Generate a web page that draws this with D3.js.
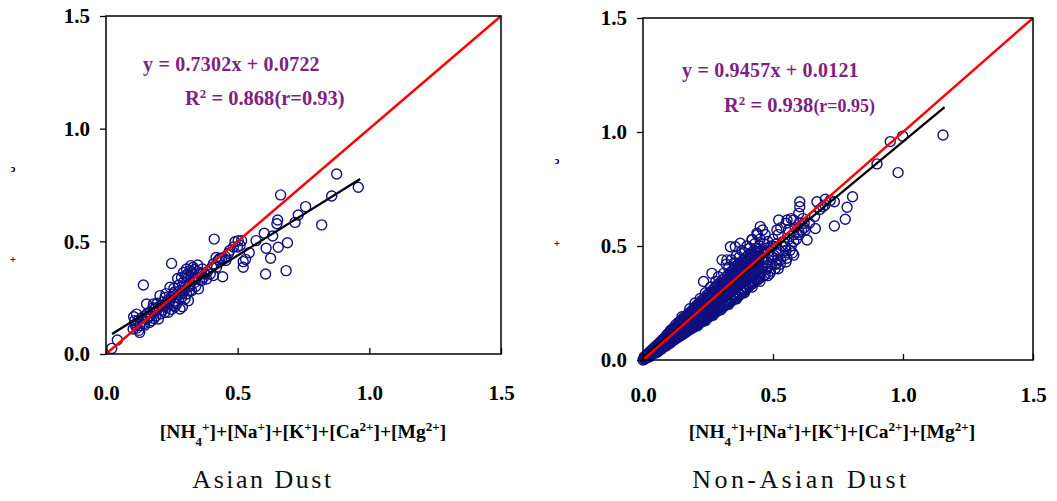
<!DOCTYPE html>
<html>
<head>
<meta charset="utf-8">
<script src="https://cdn.jsdelivr.net/npm/d3@7"></script>
<style>
  body { margin: 0; background: #fff; }
  svg { display: block; }
</style>
</head>
<body>
<div id="chart"></div>
<script>
// 축 눈금
const tickValues = [0, 0.5, 1.0, 1.5];
const titles = ["Asian Dust", "Non-Asian Dust"];
const eqAsian = ["y = 0.7302x + 0.0722", "0.868", "(r=0.93)"];
const eqNon = ["y = 0.9457x + 0.0121", "0.938", "(r=0.95)"];
// 회귀선 [기울기, 절편, 시작x, 끝x]
const fitAsian = [0.7302, 0.0722, 0.023, 0.965];
const fitNon = [0.9457, 0.0121, 0.0, 1.16];

// Asian Dust 측정점 [x, y]
const asianPts = [
  [0.022,0.025],[0.043,0.062],[0.142,0.306],[0.249,0.402],[0.411,0.510],[0.876,0.799],
  [0.958,0.740],[0.857,0.701],[0.663,0.706],[0.758,0.654],[0.730,0.617],[0.718,0.584],
  [0.819,0.573],[0.652,0.595],[0.649,0.578],[0.633,0.524],[0.601,0.536],[0.608,0.469],
  [0.654,0.474],[0.689,0.494],[0.625,0.425],[0.606,0.355],[0.684,0.370],[0.570,0.503],
  [0.544,0.450],[0.521,0.410],[0.521,0.385],[0.515,0.503],[0.502,0.503],[0.490,0.498],
  [0.499,0.475],[0.443,0.343],[0.465,0.447],[0.453,0.432],[0.433,0.425],[0.418,0.428],
  [0.402,0.385],[0.396,0.355],[0.376,0.355],[0.366,0.377],[0.331,0.385],[0.319,0.370],
  [0.306,0.377],[0.294,0.362],[0.287,0.340],[0.313,0.340],[0.344,0.340],[0.338,0.318],
  [0.319,0.311],[0.300,0.296],[0.281,0.281],[0.325,0.281],[0.306,0.266],[0.287,0.251],
  [0.313,0.237],[0.281,0.200],[0.268,0.222],[0.243,0.237],[0.243,0.296],[0.224,0.251],
  [0.205,0.259],[0.230,0.207],[0.237,0.185],[0.211,0.214],[0.192,0.192],[0.180,0.222],
  [0.154,0.222],[0.167,0.185],[0.199,0.155],[0.173,0.148],[0.154,0.155],[0.142,0.133],
  [0.116,0.177],[0.109,0.148],[0.128,0.126],[0.103,0.111],[0.128,0.096],[0.122,0.148],
  [0.148,0.170],[0.224,0.185],[0.256,0.266],[0.268,0.251],[0.300,0.244],[0.351,0.289],
  [0.363,0.326],[0.382,0.333],[0.408,0.348],[0.427,0.418],[0.440,0.425],[0.408,0.400],
  [0.484,0.475],[0.509,0.482],[0.325,0.360],[0.335,0.375],[0.310,0.355],[0.295,0.320],
  [0.275,0.305],[0.260,0.275],[0.250,0.255],[0.235,0.240],[0.215,0.230],[0.200,0.210],
  [0.185,0.200],[0.170,0.170],[0.160,0.160],[0.135,0.160],[0.118,0.115],[0.115,0.135],
  [0.265,0.230],[0.290,0.270],[0.315,0.300],[0.340,0.300],[0.355,0.330],[0.370,0.340],
  [0.345,0.365],[0.290,0.210],[0.255,0.215],[0.215,0.195],[0.190,0.170],[0.165,0.140],
  [0.385,0.365],[0.420,0.385],[0.455,0.415],[0.470,0.460],[0.530,0.420],[0.125,0.105],
  [0.105,0.165],[0.112,0.125],[0.138,0.145],[0.158,0.182],[0.178,0.205],[0.195,0.225],
  [0.228,0.268],[0.258,0.292],[0.272,0.335],[0.302,0.348],[0.322,0.392],[0.348,0.395],
  [0.278,0.262],[0.298,0.282],[0.318,0.282],[0.333,0.338],[0.358,0.362],[0.238,0.22],
  [0.248,0.198],[0.262,0.21],[0.222,0.215],[0.208,0.178],[0.182,0.158],[0.147,0.128]
];

// Non-Asian Dust 측정점 [x, y]
const nonPts = [
  [0,0],[0.005,0.003],[0.01,0.008],[0.012,0.015],
  [0.02,0.012],[0.02,0.022],[0.025,0.018],[0.028,0.03],
  [0.03,0.02],[0.033,0.035],[0.035,0.026],[0.038,0.042],
  [0.04,0.03],[0.042,0.045],[0.045,0.036],[0.048,0.052],
  [0.05,0.038],[0.052,0.055],[0.055,0.045],[0.057,0.065],[0.058,0.04],
  [0.06,0.048],[0.062,0.07],[0.065,0.056],[0.067,0.078],[0.068,0.05],
  [0.07,0.055],[0.072,0.08],[0.074,0.066],[0.076,0.09],[0.078,0.06],
  [0.08,0.064],[0.082,0.095],[0.084,0.076],[0.086,0.1],[0.088,0.07],
  [0.09,0.072],[0.092,0.11],[0.094,0.085],[0.096,0.115],[0.098,0.08],
  [0.10,0.08],[0.102,0.12],[0.104,0.095],[0.106,0.13],[0.108,0.088],[0.105,0.108],
  [0.11,0.088],[0.112,0.13],[0.114,0.104],[0.116,0.14],[0.118,0.095],[0.115,0.118],
  [0.12,0.095],[0.122,0.14],[0.124,0.11],[0.126,0.155],[0.128,0.102],[0.125,0.125],
  [0.13,0.103],[0.132,0.15],[0.134,0.12],[0.136,0.165],[0.138,0.11],[0.135,0.135],
  [0.14,0.11],[0.142,0.16],[0.144,0.128],[0.146,0.175],[0.148,0.118],[0.145,0.145],
  [0.15,0.118],[0.152,0.17],[0.154,0.138],[0.156,0.185],[0.158,0.125],[0.155,0.155],
  [0.16,0.125],[0.162,0.18],[0.164,0.145],[0.166,0.195],[0.168,0.132],[0.165,0.165],
  [0.17,0.132],[0.172,0.19],[0.174,0.152],[0.176,0.205],[0.178,0.14],[0.175,0.172],
  [0.18,0.14],[0.182,0.2],[0.184,0.16],[0.186,0.215],[0.188,0.148],[0.185,0.18],
  [0.19,0.148],[0.192,0.21],[0.194,0.168],[0.196,0.228],[0.198,0.155],[0.195,0.19],
  [0.20,0.155],[0.202,0.222],[0.204,0.175],[0.206,0.24],[0.208,0.162],[0.205,0.2],
  [0.21,0.163],[0.212,0.232],[0.214,0.185],[0.216,0.25],[0.218,0.17],[0.215,0.21],
  [0.22,0.17],[0.222,0.242],[0.224,0.195],[0.226,0.262],[0.228,0.178],[0.225,0.22],
  [0.23,0.178],[0.232,0.252],[0.234,0.205],[0.236,0.272],[0.238,0.186],[0.235,0.23],
  [0.24,0.186],[0.242,0.262],[0.244,0.214],[0.246,0.285],[0.248,0.194],[0.245,0.24],
  [0.25,0.194],[0.252,0.272],[0.254,0.222],[0.256,0.295],[0.258,0.2],[0.255,0.25],
  [0.26,0.2],[0.262,0.285],[0.264,0.232],[0.266,0.305],[0.268,0.21],[0.265,0.26],
  [0.27,0.21],[0.272,0.295],[0.274,0.24],[0.276,0.318],[0.278,0.218],[0.275,0.27],
  [0.28,0.218],[0.282,0.305],[0.284,0.25],[0.286,0.33],[0.288,0.226],[0.285,0.28],
  [0.29,0.226],[0.292,0.315],[0.294,0.26],[0.296,0.34],[0.298,0.235],[0.295,0.29],
  [0.30,0.235],[0.302,0.325],[0.304,0.268],[0.306,0.35],[0.308,0.243],[0.305,0.3],
  [0.31,0.243],[0.312,0.335],[0.314,0.278],[0.316,0.362],[0.318,0.25],[0.315,0.31],
  [0.32,0.25],[0.322,0.345],[0.324,0.288],[0.326,0.372],[0.328,0.258],[0.325,0.32],
  [0.33,0.258],[0.332,0.358],[0.334,0.296],[0.336,0.385],[0.338,0.266],[0.335,0.33],
  [0.34,0.266],[0.342,0.368],[0.344,0.305],[0.346,0.395],[0.348,0.275],[0.345,0.34],
  [0.35,0.275],[0.352,0.378],[0.354,0.315],[0.356,0.41],[0.358,0.283],[0.355,0.35],
  [0.36,0.283],[0.362,0.388],[0.364,0.325],[0.366,0.42],[0.368,0.29],[0.365,0.36],
  [0.37,0.29],[0.372,0.4],[0.374,0.335],[0.376,0.43],[0.378,0.3],[0.375,0.37],
  [0.38,0.3],[0.382,0.41],[0.384,0.345],[0.386,0.44],[0.388,0.308],[0.385,0.38],
  [0.39,0.308],[0.392,0.42],[0.394,0.352],[0.396,0.45],[0.398,0.315],[0.395,0.39],
  [0.40,0.315],[0.402,0.43],[0.404,0.36],[0.406,0.462],[0.408,0.325],[0.405,0.4],
  [0.41,0.325],[0.413,0.44],[0.416,0.37],[0.418,0.472],[0.415,0.41],
  [0.42,0.333],[0.423,0.45],[0.426,0.38],[0.428,0.48],[0.425,0.42],
  [0.43,0.342],[0.433,0.46],[0.436,0.39],[0.438,0.49],[0.435,0.43],
  [0.44,0.35],[0.443,0.47],[0.446,0.398],[0.448,0.5],[0.445,0.44],
  [0.45,0.36],[0.455,0.48],[0.46,0.405],[0.465,0.51],[0.458,0.45],
  [0.47,0.375],[0.475,0.43],[0.48,0.47],[0.49,0.39],[0.495,0.45],[0.5,0.5],
  [0.51,0.42],[0.52,0.47],[0.53,0.44],[0.535,0.5],[0.55,0.48],[0.56,0.53],
  [0.57,0.5],[0.58,0.55],[0.6,0.56],[0.62,0.58],[0.64,0.6],[0.66,0.63],
  [0.68,0.66],[0.7,0.68],[0.72,0.7],
  [0.48,0.52],[0.5,0.53],[0.52,0.55],[0.53,0.58],[0.55,0.6],[0.57,0.62],
  [0.56,0.57],[0.54,0.52],[0.58,0.52],[0.6,0.55],[0.62,0.6],[0.5,0.45],
  [0.304,0.439],[0.265,0.380],[0.336,0.497],[0.355,0.497],[0.374,0.512],[0.323,0.439],
  [0.233,0.344],[0.419,0.526],[0.438,0.556],[0.451,0.585],[0.477,0.409],[0.515,0.424],
  [0.554,0.446],[0.547,0.497],[0.515,0.570],[0.522,0.614],[0.554,0.614],[0.579,0.614],
  [0.599,0.643],[0.603,0.672],[0.603,0.694],[0.624,0.570],[0.631,0.526],[0.663,0.577],
  [0.669,0.694],[0.692,0.672],[0.701,0.705],[0.736,0.694],[0.736,0.588],[0.778,0.617],
  [0.785,0.670],[0.806,0.716],[0.900,0.860],[0.981,0.822],[0.951,0.958],[0.999,0.982],
  [1.154,0.987],
  [0.015,0.01],[0.018,0.02],[0.023,0.026],[0.027,0.015],[0.032,0.028],[0.036,0.04],
  [0.041,0.038],[0.044,0.05],[0.047,0.03],[0.051,0.047],[0.053,0.06],[0.056,0.035],
  [0.059,0.058],[0.063,0.062],[0.066,0.044],[0.069,0.072],[0.071,0.064],[0.073,0.05],
  [0.077,0.074],[0.079,0.085],[0.081,0.058],[0.083,0.082],[0.087,0.09],[0.089,0.062],
  [0.091,0.094],[0.093,0.1],[0.097,0.07],[0.099,0.1],
  [0.101,0.105],[0.103,0.072],[0.107,0.115],[0.109,0.1],[0.111,0.122],[0.113,0.082],
  [0.117,0.11],[0.119,0.128],[0.121,0.118],[0.123,0.09],[0.127,0.135],[0.129,0.12],
  [0.131,0.128],[0.133,0.098],[0.137,0.145],[0.139,0.13],[0.141,0.14],[0.143,0.105],
  [0.147,0.155],[0.149,0.138],[0.151,0.15],[0.153,0.112],[0.157,0.165],[0.159,0.148],
  [0.161,0.16],[0.163,0.12],[0.167,0.178],[0.169,0.155],[0.171,0.168],[0.173,0.128],
  [0.177,0.188],[0.179,0.162],[0.181,0.175],[0.183,0.135],[0.187,0.198],[0.189,0.172],
  [0.191,0.182],[0.193,0.142],[0.197,0.21],[0.199,0.18],
  [0.201,0.19],[0.203,0.15],[0.207,0.22],[0.209,0.19],[0.211,0.2],[0.213,0.158],
  [0.217,0.232],[0.219,0.198],[0.221,0.21],[0.223,0.165],[0.227,0.245],[0.229,0.206],
  [0.231,0.22],[0.233,0.172],[0.237,0.255],[0.239,0.215],[0.241,0.228],[0.243,0.18],
  [0.247,0.265],[0.249,0.225],[0.251,0.238],[0.253,0.188],[0.257,0.278],[0.259,0.232],
  [0.261,0.248],[0.263,0.196],[0.267,0.29],[0.269,0.24],[0.271,0.258],[0.273,0.204],
  [0.277,0.3],[0.279,0.25],[0.281,0.268],[0.283,0.212],[0.287,0.31],[0.289,0.258],
  [0.291,0.278],[0.293,0.22],[0.297,0.322],[0.299,0.268],
  [0.301,0.288],[0.303,0.228],[0.307,0.335],[0.309,0.276],[0.311,0.298],[0.313,0.236],
  [0.317,0.345],[0.319,0.285],[0.321,0.308],[0.323,0.244],[0.327,0.358],[0.329,0.294],
  [0.331,0.318],[0.333,0.252],[0.337,0.37],[0.339,0.302],[0.341,0.328],[0.343,0.26],
  [0.347,0.38],[0.349,0.31],[0.351,0.338],[0.353,0.268],[0.357,0.392],[0.359,0.318],
  [0.361,0.348],[0.363,0.278],[0.367,0.402],[0.369,0.328],[0.371,0.358],[0.373,0.286],
  [0.377,0.415],[0.379,0.336],[0.381,0.368],[0.383,0.295],[0.387,0.425],[0.389,0.345],
  [0.391,0.378],[0.393,0.305],[0.397,0.435],[0.399,0.352],
  [0.403,0.388],[0.407,0.33],[0.411,0.445],[0.414,0.36],[0.417,0.395],[0.421,0.34],
  [0.424,0.458],[0.427,0.37],[0.431,0.405],[0.434,0.35],[0.437,0.468],[0.441,0.38],
  [0.444,0.415],[0.447,0.36],[0.452,0.475],[0.456,0.39],[0.462,0.43],[0.466,0.37],
  [0.472,0.49],[0.477,0.4],[0.483,0.44],[0.488,0.38],[0.492,0.5],[0.497,0.42],
  [0.503,0.46],[0.508,0.4],[0.513,0.51],[0.518,0.44],[0.524,0.48],[0.528,0.42],
  [0.545,0.46],[0.565,0.48],[0.575,0.47],[0.59,0.53],[0.61,0.57],[0.585,0.58],
  [0.6,0.6],[0.615,0.62],
  [0.005,0.005],[0.005,0.008],[0.005,0.011],[0.005,0.014],
  [0.015,0.013],[0.015,0.017],[0.015,0.021],[0.015,0.025],
  [0.025,0.021],[0.025,0.026],[0.025,0.031],[0.025,0.035],
  [0.035,0.030],[0.035,0.035],[0.035,0.040],[0.035,0.046],
  [0.045,0.038],[0.045,0.044],[0.045,0.050],[0.045,0.057],
  [0.055,0.046],[0.055,0.053],[0.055,0.060],[0.055,0.067],
  [0.065,0.054],[0.065,0.062],[0.065,0.070],[0.065,0.078],
  [0.075,0.062],[0.075,0.071],[0.075,0.080],[0.075,0.089],
  [0.085,0.070],[0.085,0.080],[0.085,0.090],[0.085,0.099],
  [0.095,0.078],[0.095,0.089],[0.095,0.100],[0.095,0.110],
  [0.105,0.086],[0.105,0.098],[0.105,0.109],[0.105,0.121],
  [0.115,0.095],[0.115,0.107],[0.115,0.119],[0.115,0.131],
  [0.125,0.103],[0.125,0.116],[0.125,0.129],[0.125,0.142],
  [0.135,0.111],[0.135,0.125],[0.135,0.139],[0.135,0.153],
  [0.145,0.119],[0.145,0.134],[0.145,0.149],[0.145,0.164],
  [0.155,0.127],[0.155,0.143],[0.155,0.158],[0.155,0.174],
  [0.165,0.135],[0.165,0.152],[0.165,0.168],[0.165,0.185],
  [0.175,0.143],[0.175,0.161],[0.175,0.178],[0.175,0.196],
  [0.185,0.152],[0.185,0.170],[0.185,0.188],[0.185,0.206],
  [0.195,0.160],[0.195,0.179],[0.195,0.198],[0.195,0.217],
  [0.205,0.168],[0.205,0.188],[0.205,0.208],[0.205,0.228],
  [0.215,0.176],[0.215,0.197],[0.215,0.218],[0.215,0.238],
  [0.225,0.184],[0.225,0.206],[0.225,0.227],[0.225,0.249],
  [0.235,0.192],[0.235,0.215],[0.235,0.237],[0.235,0.260],
  [0.245,0.200],[0.245,0.224],[0.245,0.247],[0.245,0.270],
  [0.255,0.209],[0.255,0.233],[0.255,0.257],[0.255,0.281],
  [0.265,0.217],[0.265,0.242],[0.265,0.267],[0.265,0.292],
  [0.275,0.225],[0.275,0.251],[0.275,0.277],[0.275,0.302],
  [0.285,0.233],[0.285,0.260],[0.285,0.286],[0.285,0.313],
  [0.295,0.241],[0.295,0.269],[0.295,0.296],[0.295,0.324],
  [0.305,0.249],[0.305,0.278],[0.305,0.306],[0.305,0.335],
  [0.315,0.257],[0.315,0.287],[0.315,0.316],[0.315,0.345],
  [0.325,0.266],[0.325,0.296],[0.325,0.326],[0.325,0.356],
  [0.335,0.274],[0.335,0.305],[0.335,0.336],[0.335,0.367],
  [0.345,0.282],[0.345,0.314],[0.345,0.346],[0.345,0.377],
  [0.355,0.290],[0.355,0.323],[0.355,0.355],[0.355,0.388],
  [0.365,0.298],[0.365,0.332],[0.365,0.365],[0.365,0.399],
  [0.375,0.306],[0.375,0.341],[0.375,0.375],[0.375,0.409],
  [0.385,0.314],[0.385,0.350],[0.385,0.385],[0.385,0.420],
  [0.395,0.323],[0.395,0.359],[0.395,0.395],[0.395,0.431],
  [0.405,0.331],[0.405,0.368],[0.405,0.405],[0.405,0.442],
  [0.415,0.339],[0.415,0.377],[0.415,0.415],[0.415,0.452],
  [0.425,0.347],[0.425,0.386],[0.425,0.425],[0.425,0.463],
  [0.435,0.355],[0.435,0.395],[0.435,0.435],[0.435,0.474],
  [0.445,0.363],[0.445,0.404],[0.445,0.445],[0.445,0.485],
  [0.15,0.19],[0.18,0.225],[0.20,0.25],[0.22,0.27],[0.24,0.295],[0.26,0.32],
  [0.28,0.345],[0.29,0.365],[0.31,0.38],[0.33,0.405],[0.35,0.425],[0.37,0.45],
  [0.39,0.47],[0.41,0.49],[0.43,0.51],[0.45,0.53],[0.47,0.55],[0.32,0.42],
  [0.34,0.44],[0.36,0.46],[0.38,0.48],[0.40,0.50],[0.42,0.53],[0.44,0.55],
  [0.46,0.57],[0.21,0.15],[0.24,0.172],[0.27,0.196],[0.30,0.22],[0.33,0.244],
  [0.36,0.268],[0.39,0.295],[0.42,0.32],[0.45,0.345],[0.48,0.37],[0.52,0.40],
  [0.55,0.43],[0.58,0.46]
];

const width = 1057, height = 501;
const svg = d3.select("#chart").append("svg")
  .attr("width", width).attr("height", height);

const serif = '"Liberation Serif", "Times New Roman", serif';
const purple = "#7f1f80";
const navy = "#10107f";

const panels = [
  { left: 106, top: 16, w: 395, h: 338, pts: asianPts, fit: fitAsian, eq: eqAsian,
    eqPos: [[143, 71], [185, 105]], title: titles[0], titleX: 263, xLabX: 303, xPad: 31,
    titleSpace: 2.5, glyphs: [[13, 172, "ↄ"], [13, 263, "+"]], rSmall: false },
  { left: 643, top: 18, w: 390, h: 342, pts: nonPts, fit: fitNon, eq: eqNon,
    eqPos: [[682, 77], [724, 112]], title: titles[1], titleX: 801, xLabX: 832, xPad: 27,
    titleSpace: 3.4, glyphs: [[557, 164, "ↄ"], [557, 247, "+"]], rSmall: true }
];

panels.forEach(p => drawPanel(p));

function drawPanel(p) {
  const x = d3.scaleLinear().domain([0, 1.5]).range([p.left, p.left + p.w]);
  const y = d3.scaleLinear().domain([0, 1.5]).range([p.top + p.h, p.top]);

  const g = svg.append("g");

  // 점
  g.append("g").selectAll("circle")
    .data(p.pts)
    .enter().append("circle")
    .attr("cx", d => x(d[0]))
    .attr("cy", d => y(d[1]))
    .attr("r", 5)
    .attr("fill", "none")
    .attr("stroke", navy)
    .attr("stroke-width", 1.4);

  // 회귀선
  const f = p.fit;
  g.append("line")
    .attr("x1", x(f[2])).attr("y1", y(f[0] * f[2] + f[1]))
    .attr("x2", x(f[3])).attr("y2", y(f[0] * f[3] + f[1]))
    .attr("stroke", "#000").attr("stroke-width", 2.3);

  // 1:1 선
  g.append("line")
    .attr("x1", x(0)).attr("y1", y(0))
    .attr("x2", x(1.5)).attr("y2", y(1.5))
    .attr("stroke", "#ff0000").attr("stroke-width", 2.4);

  // 테두리
  g.append("rect")
    .attr("x", p.left).attr("y", p.top)
    .attr("width", p.w).attr("height", p.h)
    .attr("fill", "none").attr("stroke", "#000").attr("stroke-width", 1.5);

  // x축 (눈금 안쪽)
  const xAxis = g.append("g")
    .attr("transform", `translate(0,${p.top + p.h})`)
    .call(d3.axisBottom(x).tickValues(tickValues).tickFormat(d3.format(".1f"))
      .tickSize(-6).tickPadding(p.xPad));
  xAxis.select(".domain").remove();
  xAxis.selectAll(".tick line").attr("stroke-width", 1.3);

  // y축 (눈금 바깥쪽)
  const yAxis = g.append("g")
    .attr("transform", `translate(${p.left},0)`)
    .call(d3.axisLeft(y).tickValues(tickValues).tickFormat(d3.format(".1f"))
      .tickSize(6).tickPadding(10));
  yAxis.select(".domain").remove();
  yAxis.selectAll(".tick line").attr("stroke-width", 1.3);

  [xAxis, yAxis].forEach(a => a.selectAll(".tick text")
    .attr("font-family", serif).attr("font-weight", "bold")
    .attr("font-size", 21).attr("fill", "#000"));

  // 회귀식
  g.append("text")
    .attr("x", p.eqPos[0][0]).attr("y", p.eqPos[0][1])
    .attr("font-family", serif).attr("font-weight", "bold").attr("font-size", 20)
    .attr("letter-spacing", 0.2)
    .attr("fill", purple)
    .text(p.eq[0]);

  const r2 = g.append("text")
    .attr("x", p.eqPos[1][0]).attr("y", p.eqPos[1][1])
    .attr("font-family", serif).attr("font-weight", "bold").attr("font-size", 20.5)
    .attr("fill", purple);
  r2.append("tspan").text("R");
  r2.append("tspan").attr("font-size", 13).attr("baseline-shift", "super").text("2");
  r2.append("tspan").text(" = " + p.eq[1]);
  r2.append("tspan").attr("font-size", p.rSmall ? 18 : 20.5).text(p.eq[2]);

  // x축 제목
  const xl = g.append("text")
    .attr("x", p.xLabX).attr("y", 438)
    .attr("text-anchor", "middle")
    .attr("font-family", serif).attr("font-weight", "bold").attr("font-size", 19.5)
    .attr("fill", "#000");
  const parts = [
    ["[NH", null], ["4", "sub"], ["+", "super"], ["]+[Na", null], ["+", "super"],
    ["]+[K", null], ["+", "super"], ["]+[Ca", null], ["2+", "super"],
    ["]+[Mg", null], ["2+", "super"], ["]", null]
  ];
  parts.forEach(t => {
    const ts = xl.append("tspan").text(t[0]);
    if (t[1]) ts.attr("font-size", 13).attr("baseline-shift", t[1]);
  });

  // 잘린 y축 제목 흔적
  p.glyphs.forEach(gl => {
    g.append("text")
      .attr("x", gl[0]).attr("y", gl[1])
      .attr("text-anchor", "middle")
      .attr("font-family", serif).attr("font-size", 11).attr("font-weight", "bold")
      .attr("fill", "#000")
      .text(gl[2]);
  });

  // 패널 제목
  g.append("text")
    .attr("x", p.titleX).attr("y", 488)
    .attr("text-anchor", "middle")
    .attr("font-family", serif).attr("font-size", 26)
    .attr("letter-spacing", p.titleSpace)
    .attr("fill", "#111")
    .text(p.title);
}
</script>
</body>
</html>
